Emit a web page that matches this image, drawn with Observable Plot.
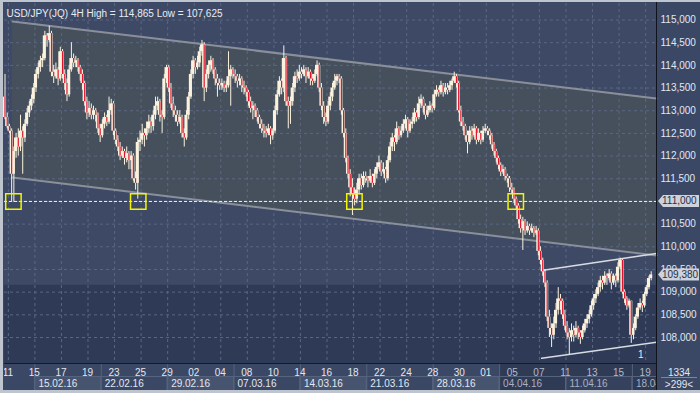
<!DOCTYPE html>
<html><head><meta charset="utf-8">
<script src="https://cdn.jsdelivr.net/npm/d3@7"></script>
<script src="https://cdn.jsdelivr.net/npm/@observablehq/plot@0.6"></script>
<style>
html,body{margin:0;padding:0;background:#3a4765;}
#wrap{width:700px;height:393px;overflow:hidden;}
</style></head><body><div id="wrap"></div>
<script>
// ---------------- data ----------------
const symbol = "USD/JPY(JQ)";
const timeframe = "4H";
const firstOpen = 113.3;
const close = [
112.85,112.65,112.55,111.6,112.1,112.4,112.2,112.55,112.4,112.7,
112.95,113.1,113.25,113.5,113.8,113.95,114.1,114.15,114.65,114.55,
114.7,113.85,113.75,113.9,113.7,114.3,113.8,113.6,113.35,113.9,
114.15,114.05,114.1,113.95,113.8,113.6,113.2,112.95,113.05,112.9,
113.0,112.9,112.6,112.45,112.7,112.85,112.75,113.0,113.15,112.55,
112.35,112.2,112.0,112.1,111.95,112.05,111.9,112.0,111.5,111.4,
112.3,112.35,112.5,112.45,112.6,112.75,112.65,112.9,113.1,113.2,
112.9,112.85,113.7,113.95,113.5,113.15,113.0,112.9,112.75,112.85,
112.5,112.4,112.9,113.3,113.8,114.1,113.95,114.05,114.3,114.45,
113.5,113.8,114.0,114.1,113.9,113.7,113.6,113.55,113.6,113.5,
113.55,113.75,113.9,113.8,113.75,113.65,113.7,113.55,113.5,113.4,
113.2,113.05,113.1,113.0,112.85,112.7,112.6,112.55,112.5,112.6,
112.45,112.55,113.0,113.35,113.65,113.5,114.15,113.2,113.1,113.2,
113.5,113.75,113.7,113.85,113.8,113.9,113.75,113.85,113.7,113.65,
113.8,114.0,113.5,113.1,112.85,112.75,113.1,113.3,113.5,113.65,
113.75,113.7,113.0,112.5,111.95,111.6,111.3,111.15,111.05,111.25,
111.5,111.35,111.55,111.5,111.45,111.55,111.4,111.6,111.75,111.85,
111.65,111.7,111.5,111.9,112.2,112.4,112.3,112.6,112.45,112.55,
112.7,112.8,112.55,112.7,112.75,112.95,112.85,113.15,113.25,113.1,
112.9,113.0,113.1,113.05,113.35,113.45,113.4,113.55,113.4,113.5,
113.45,113.55,113.65,113.75,113.6,113.0,112.75,112.65,112.45,112.3,
112.55,112.45,112.6,112.35,112.5,112.35,112.55,112.6,112.55,112.45,
112.25,112.1,111.95,111.8,111.65,111.7,111.55,111.5,111.3,111.25,
111.05,110.9,110.6,110.4,110.55,110.35,110.45,110.35,110.4,110.3,
110.35,109.9,109.7,109.45,109.2,108.45,108.2,108.05,108.3,108.6,
108.85,108.8,108.5,108.25,108.1,108.0,108.15,108.05,108.2,108.1,
108.0,108.15,108.3,108.4,108.5,108.7,108.85,108.95,109.1,109.25,
109.2,109.35,109.3,109.4,109.2,109.35,109.25,109.55,109.7,109.0,
108.85,108.7,108.8,108.05,108.2,108.45,108.65,108.75,108.7,108.95,
109.1,109.3,109.38];
const high = [
113.8,112.95,112.7,112.6,112.2,112.5,112.6,112.9,112.65,112.8,
113.05,113.2,113.35,113.6,113.9,114.05,114.2,114.25,114.75,114.7,
114.865,114.75,114.0,114.05,113.95,114.4,114.35,113.9,113.7,114.0,
114.5,114.25,114.2,114.15,114.0,113.9,113.65,113.3,113.2,113.15,
113.1,113.05,112.95,112.7,112.8,112.95,112.9,113.3,113.25,113.2,
112.6,112.45,112.3,112.2,112.15,112.2,112.1,112.1,112.05,111.65,
112.4,112.55,112.7,112.6,112.75,112.9,112.85,113.0,113.3,113.3,
113.25,113.0,113.8,114.0,114.0,113.6,113.3,113.1,113.0,113.0,
112.9,112.6,113.0,113.4,113.9,114.2,114.15,114.2,114.4,114.55,
114.5,113.9,114.1,114.2,114.15,113.95,113.8,113.7,113.7,113.65,
113.65,114.3,114.0,113.95,113.9,113.8,113.8,113.75,113.65,113.55,
113.45,113.3,113.2,113.15,113.05,112.9,112.8,112.7,112.65,112.7,
112.65,112.6,113.1,113.45,113.75,113.7,114.43,114.2,113.3,113.3,
113.6,113.85,113.9,114.0,113.95,114.0,113.95,113.95,113.9,113.8,
113.9,114.1,114.05,113.6,113.2,112.95,113.2,113.4,113.6,113.8,
113.8,113.8,113.75,113.05,112.6,112.0,111.7,111.5,111.3,111.4,
111.6,111.6,111.65,111.65,111.55,111.7,111.6,111.7,111.85,112.0,
111.9,111.85,111.75,112.0,112.3,112.5,112.45,112.75,112.65,112.65,
112.8,112.9,112.85,112.8,112.85,113.05,113.0,113.3,113.35,113.3,
113.15,113.1,113.2,113.15,113.45,113.55,113.5,113.65,113.6,113.6,
113.6,113.65,113.7,113.85,113.8,113.65,113.1,112.85,112.7,112.55,
112.65,112.65,112.7,112.65,112.6,112.55,112.65,112.7,112.65,112.6,
112.5,112.3,112.15,112.0,111.85,111.8,111.75,111.6,111.55,111.4,
111.3,111.1,110.95,110.7,110.65,110.6,110.55,110.5,110.5,110.45,
110.45,110.4,110.0,109.75,109.5,109.25,108.6,108.3,108.45,108.75,
109.1,108.95,108.85,108.6,108.35,108.2,108.3,108.25,108.35,108.25,
108.15,108.25,108.4,108.5,108.6,108.8,108.95,109.05,109.2,109.35,
109.35,109.45,109.4,109.5,109.45,109.4,109.4,109.65,109.75,109.72,
109.05,108.9,108.85,108.8,108.3,108.5,108.75,108.85,108.8,109.0,
109.15,109.35,109.45];
const low = [
112.8,112.6,112.5,111.0,110.98,111.95,112.0,112.1,111.6,112.3,
112.65,112.85,113.0,113.15,113.4,113.7,113.85,113.95,114.1,114.4,
114.5,113.75,113.6,113.7,113.55,113.65,113.7,113.45,113.2,113.3,
113.85,113.95,113.95,113.85,113.65,113.45,113.1,112.8,112.85,112.8,
112.8,112.75,112.5,112.3,112.4,112.6,112.65,112.7,112.9,112.45,
112.25,112.1,111.9,111.95,111.8,111.85,111.7,111.7,111.45,111.25,
111.05,112.1,112.25,112.2,112.35,112.5,112.5,112.55,112.8,113.0,
112.75,112.5,112.8,113.6,113.4,113.05,112.85,112.75,112.65,112.7,
112.4,112.2,112.35,112.8,113.25,113.7,113.8,113.9,113.95,114.2,
113.2,113.4,113.7,113.85,113.8,113.55,113.3,113.45,113.45,113.4,
113.4,113.5,113.1,113.7,113.6,113.5,113.55,113.4,113.35,113.3,
113.1,112.95,112.8,112.85,112.75,112.6,112.5,112.4,112.4,112.45,
112.25,112.35,112.5,112.9,113.3,113.35,113.4,113.1,112.6,112.7,
113.1,113.4,113.6,113.65,113.7,113.75,113.6,113.7,113.55,113.55,
113.6,113.75,113.4,113.0,112.7,112.65,112.7,113.0,113.2,113.45,
113.55,113.6,112.9,112.4,111.85,111.5,111.1,110.69,110.9,110.95,
111.15,111.25,111.3,111.4,111.3,111.4,111.3,111.35,111.5,111.7,
111.55,111.6,111.4,111.45,111.85,112.1,112.1,112.25,112.35,112.4,
112.5,112.6,112.4,112.5,112.6,112.7,112.75,112.8,113.05,112.95,
112.8,112.85,112.95,112.95,113.0,113.3,113.3,113.35,113.3,113.35,
113.35,113.4,113.45,113.6,113.5,112.95,112.65,112.55,112.35,112.05,
112.25,112.35,112.4,112.25,112.3,112.25,112.3,112.5,112.45,112.35,
112.15,112.0,111.85,111.7,111.55,111.6,111.45,111.4,111.2,111.15,
110.95,110.8,110.5,110.3,109.92,110.25,110.3,110.25,110.3,110.2,
110.25,109.8,109.6,109.35,109.1,108.35,108.0,107.78,107.95,108.2,
108.5,108.6,108.4,108.15,107.95,107.625,107.9,107.9,108.0,107.95,
107.85,107.95,108.1,108.2,108.3,108.45,108.6,108.75,108.9,109.0,
109.05,109.15,109.15,109.25,109.05,109.15,109.1,109.2,109.5,108.95,
108.75,108.6,108.65,107.87,107.95,108.15,108.4,108.6,108.55,108.65,
108.9,109.05,109.25];

// trading-day index (0 = 11 Feb) of each labelled day, and the labels
const dayIndex  = [0,2,4,6,8,10,12,14,16,18,20,22,24,26,28,30,32,34,36,38,40,42,44,46,48];
const dayLabels = ["11","15","17","19","23","25","29","02","04","08","10","14","16","18","22","24","28","30","01","05","07","11","13","15","19"];
const weekIndex  = [2,7,12,17,22,27,32,37,42,47];
const weekLabels = ["15.02.16","22.02.16","29.02.16","07.03.16","14.03.16","21.03.16","28.03.16","04.04.16","11.04.16","18.04.16"];
const barsPerDay = 6;
const barsBeforeFirstDay = 2;
const priceTicks = [108,108.5,109,109.5,110,110.5,111,111.5,112,112.5,113,113.5,114,114.5,115];
const levelPrice = 111.0;
const markerBars = [3.8, 60.2, 157.9, 230.8];
const channelBars = [3.4, 294.4];
const channelUpper = [114.967, 113.27];
const channelLower = [111.528, 109.81];
const riseBars = [242.5, 294.4];
const riseUpper = [109.478, 109.853];
const riseLower = [107.542, 107.895];
const barCountText = "1334";
const visibleText = ">299<";
const dimFromWeek = 7;

// ---------------- styles ----------------
const FONT = "'Liberation Sans', Arial, sans-serif";
const AXIS_BG = "#3a4765", TOP_BAND = "#3d4965", BOTTOM_BAND = "#2e3a56", CHANNEL = "#46505d";
const GRID = "#5b6782", CREAM = "#fbf2de", RED = "#e0132e", TEXT = "#e3e8f1";

const fmt = v => d3.format(".3f")(v).replace(".", ",");
const dayPos = d => barsPerDay * d + barsBeforeFirstDay - 0.5;

const candles = close.map((c, i) => ({i, o: i ? close[i - 1] : firstOpen, h: high[i], l: low[i], c}));
const channel = channelBars.map((k, i) => ({k, hi: channelUpper[i], lo: channelLower[i]}));
const rise = riseBars.map((k, i) => ({k, hi: riseUpper[i], lo: riseLower[i]}));
const title = `${symbol} ${timeframe} High = ${fmt(d3.max(high))} Low = ${fmt(d3.min(low))}`;
const lastPrice = close[close.length - 1];
const tagPrices = [levelPrice, lastPrice];

function panelBg(index, scales, values, dim) {
  const g = d3.create("svg:g");
  const l = dim.marginLeft, t = dim.marginTop, r = dim.width - dim.marginRight, b = dim.height - dim.marginBottom;
  const split = t + (b - t) * 0.783;
  g.append("rect").attr("x", l).attr("y", t).attr("width", r - l).attr("height", split - t).attr("fill", TOP_BAND);
  g.append("rect").attr("x", l).attr("y", split).attr("width", r - l).attr("height", b - split).attr("fill", BOTTOM_BAND);
  return g.node();
}

function bottomAxis(index, scales, values, dim) {
  const X = scales.x;
  const l = dim.marginLeft, r = dim.width - dim.marginRight, top = dim.height - dim.marginBottom;
  const g = d3.create("svg:g").attr("font-family", FONT).attr("font-size", 10).attr("text-anchor", "start");
  const s = g.append("svg").attr("x", l).attr("y", top).attr("width", r - l).attr("height", dim.height - top - 3).attr("overflow", "hidden");
  s.append("rect").attr("width", r - l).attr("height", 40).attr("fill", AXIS_BG);
  const dimX = X(dayPos(weekIndex[dimFromWeek])) - l;
  s.append("rect").attr("x", dimX).attr("width", r - l - dimX).attr("height", 40).attr("fill", "#2f3a55");
  weekIndex.forEach((d, i) => {
    const xa = X(dayPos(d)) - l, xb = X(dayPos(d + 5)) - l;
    const dimmed = i >= dimFromWeek;
    const fill = i % 2 === 0 ? (dimmed ? "#36425d" : "#46546f") : (dimmed ? "#2f3a55" : AXIS_BG);
    s.append("rect").attr("x", xa).attr("y", 13.5).attr("width", xb - xa).attr("height", 20).attr("fill", fill).attr("stroke", "#56637d");
    s.append("line").attr("x1", xa + 0.5).attr("x2", xa + 0.5).attr("y1", 0).attr("y2", 30).attr("stroke", "#56637d");
    s.append("text").attr("x", xa + 4).attr("y", 20).attr("dy", "0.35em").attr("text-anchor", "start")
      .attr("fill", dimmed ? "#a9b1c0" : TEXT).text(weekLabels[i]);
  });
  dayIndex.forEach((d, i) => {
    const dimmed = d >= weekIndex[dimFromWeek];
    s.append("text").attr("x", X(dayPos(d)) - l).attr("y", 9).attr("dy", "0.35em").attr("text-anchor", "middle")
      .attr("fill", dimmed ? "#b3bac8" : TEXT).text(dayLabels[i]);
  });
  g.append("line").attr("x1", l).attr("x2", r).attr("y1", top + 0.5).attr("y2", top + 0.5).attr("stroke", "#161b28");
  // corner box
  g.append("rect").attr("x", r + 1).attr("y", top).attr("width", dim.width - r - 1).attr("height", dim.height - top - 3).attr("fill", AXIS_BG);
  g.append("text").attr("x", (r + dim.width) / 2 + 1).attr("y", top + 9).attr("dy", "0.35em").attr("text-anchor", "middle").attr("fill", TEXT).text(barCountText);
  g.append("line").attr("x1", r + 5).attr("x2", dim.width - 3).attr("y1", top + 14.5).attr("y2", top + 14.5).attr("stroke", "#7d879b");
  g.append("text").attr("x", (r + dim.width) / 2 + 1).attr("y", top + 21).attr("dy", "0.35em").attr("text-anchor", "middle").attr("fill", TEXT).text(visibleText);
  // frame lines and outer border
  g.append("line").attr("x1", r + 0.5).attr("x2", r + 0.5).attr("y1", 0).attr("y2", dim.height).attr("stroke", "#10131b");
  g.append("rect").attr("x", 0).attr("y", 0).attr("width", 3).attr("height", dim.height).attr("fill", "#bfc5cf");
  g.append("rect").attr("x", 0).attr("y", 0).attr("width", dim.width).attr("height", 2).attr("fill", "#bfc5cf");
  g.append("rect").attr("x", 0).attr("y", dim.height - 3).attr("width", dim.width).attr("height", 3).attr("fill", "#bfc5cf");
  return g.node();
}

function priceTags(index, scales, values, dim) {
  const Y = scales.y;
  const x0 = dim.width - dim.marginRight + 2;
  const g = d3.create("svg:g").attr("text-anchor", "start");
  for (const p of tagPrices) {
    const yy = Y(p);
    g.append("polygon")
      .attr("points", `${x0},${yy} ${x0 + 5},${yy - 6} ${x0 + 41},${yy - 6} ${x0 + 41},${yy + 6} ${x0 + 5},${yy + 6}`)
      .attr("fill", "#cdd2db");
    g.append("text").attr("x", x0 + 4).attr("y", yy + 3.5).attr("text-anchor", "start")
      .attr("fill", "#26304a").attr("font-family", FONT).attr("font-size", "10px").text(fmt(p));
  }
  return g.node();
}

const chart = Plot.plot({
  width: 700, height: 393,
  marginLeft: 4, marginRight: 44, marginTop: 3, marginBottom: 30,
  x: {domain: [-0.23, 294.4], axis: null},
  y: {domain: [107.427, 115.364], axis: null},
  style: {background: AXIS_BG, fontFamily: FONT, fontSize: "10px", color: TEXT},
  marks: [
    panelBg,
    Plot.areaY(channel, {x: "k", y1: "lo", y2: "hi", fill: CHANNEL}),
    Plot.ruleY(priceTicks, {stroke: GRID, strokeDasharray: "3,3"}),
    Plot.ruleX(dayIndex, {x: d => dayPos(d), stroke: GRID, strokeDasharray: "3,3"}),
    Plot.line(channel, {x: "k", y: "hi", stroke: "#8a909b", strokeWidth: 2}),
    Plot.line(channel, {x: "k", y: "lo", stroke: "#8a909b", strokeWidth: 2}),
    Plot.line(rise, {x: "k", y: "hi", stroke: "#d8dbe1", strokeWidth: 1.5}),
    Plot.line(rise, {x: "k", y: "lo", stroke: "#d8dbe1", strokeWidth: 1.5}),
    Plot.ruleY([levelPrice], {stroke: "#f2f2f2", strokeDasharray: "3,2"}),
    Plot.ruleX(candles, {x: "i", y1: "l", y2: "h", stroke: CREAM, strokeWidth: 1}),
    Plot.rect(candles, {x1: d => d.i - 0.7, x2: d => d.i + 0.7, y1: "o", y2: "c", fill: CREAM}),
    Plot.ruleX(candles.filter(d => d.c < d.o), {x: "i", y1: "o", y2: "c", stroke: RED, strokeWidth: 1.2}),
    Plot.dot(markerBars, {x: d => d, y: () => levelPrice, symbol: "square", r: 8.7, stroke: "#f4f400", strokeWidth: 1.5, fill: "none"}),
    Plot.text([title], {frameAnchor: "top-left", dx: 2, dy: 6, text: d => d, textAnchor: "start", fill: "#e8ecf3", fontSize: 10}),
    Plot.text(["1"], {frameAnchor: "bottom-right", dx: -13, dy: -6, text: d => d, fill: TEXT, fontSize: 10}),
    Plot.text(priceTicks.filter(p => !tagPrices.includes(p)), {y: d => d, text: d => fmt(d), frameAnchor: "right", dx: 4, textAnchor: "start", fill: TEXT, fontSize: 10}),
    bottomAxis,
    priceTags
  ]
});
document.getElementById("wrap").appendChild(chart);
</script>
</body></html>
